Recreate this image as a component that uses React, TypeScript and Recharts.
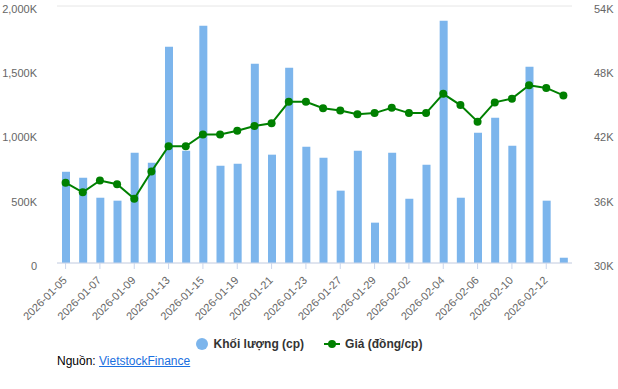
import * as React from 'react';
import { ComposedChart, Bar, Line, XAxis, YAxis, CartesianGrid } from 'recharts';

const dates = [
  '2026-01-05', '2026-01-06', '2026-01-07', '2026-01-08', '2026-01-09',
  '2026-01-12', '2026-01-13', '2026-01-14', '2026-01-15', '2026-01-16',
  '2026-01-19', '2026-01-20', '2026-01-21', '2026-01-22', '2026-01-23',
  '2026-01-26', '2026-01-27', '2026-01-28', '2026-01-29', '2026-01-30',
  '2026-02-02', '2026-02-03', '2026-02-04', '2026-02-05', '2026-02-06',
  '2026-02-09', '2026-02-10', '2026-02-11', '2026-02-12', '2026-02-13',
];

// khối lượng (cp)
const volumes = [
  710000, 664000, 508000, 485000, 858000,
  781000, 1683000, 874000, 1847000, 757000,
  773000, 1551000, 843000, 1520000, 905000,
  820000, 563000, 874000, 314000, 858000,
  500000, 765000, 1886000, 508000, 1014000,
  1131000, 913000, 1528000, 485000, 41000,
];

// giá (đồng/cp)
const prices = [
  37500, 36600, 37700, 37350, 36000,
  38550, 40900, 40900, 42000, 42000,
  42350, 42800, 43050, 45050, 45050,
  44450, 44250, 43900, 44000, 44500,
  44000, 44000, 45800, 44750, 43200,
  45000, 45350, 46600, 46350, 45650,
];

const volumeTicks = [0, 500000, 1000000, 1500000, 2000000];
const priceTicks = [30000, 36000, 42000, 48000, 54000];

const data = dates.map((d, i) => ({ date: d, volume: volumes[i], price: prices[i] }));

const FONT = '"Liberation Sans", Arial, Helvetica, sans-serif';
const BAR_COLOR = '#7cb5ec';
const LINE_COLOR = '#008000';

const fmtVolume = (v: number) => (v === 0 ? '0' : `${(v / 1000).toLocaleString('en-US')}K`);
const fmtPrice = (v: number) => `${v / 1000}K`;

const DateTick = ({ x, y, payload }: any) => (
  <text
    transform={`translate(${x + 2},${y + 10}) rotate(-45)`}
    textAnchor="end"
    fontSize={11}
    fill="#666666"
    fontFamily={FONT}
  >
    {payload.value}
  </text>
);

export default function App() {
  return (
    <div style={{ position: 'absolute', left: 0, top: 0, width: 618, height: 389, background: '#ffffff', fontFamily: FONT }}>
      <ComposedChart
        width={618}
        height={340}
        data={data}
        margin={{ top: 6, right: 0, bottom: 6, left: 0 }}
        barCategoryGap={0}
      >
        <CartesianGrid vertical={false} stroke="#e6e6e6" />
        <XAxis
          dataKey="date"
          interval={1}
          height={71}
          tick={<DateTick />}
          tickLine={{ stroke: '#ccd6eb' }}
          tickSize={6}
          axisLine={{ stroke: '#ccd6eb' }}
        />
        <YAxis
          yAxisId="vol"
          orientation="left"
          width={57}
          domain={[0, 2000000]}
          ticks={volumeTicks}
          tickFormatter={fmtVolume}
          axisLine={false}
          tickLine={false}
          tick={{ fontSize: 11, fill: '#666666', fontFamily: FONT, dy: 3 }}
          tickMargin={14}
        />
        <YAxis
          yAxisId="price"
          orientation="right"
          width={46}
          domain={[30000, 54000]}
          ticks={priceTicks}
          tickFormatter={fmtPrice}
          axisLine={false}
          tickLine={false}
          tick={{ fontSize: 11, fill: '#666666', fontFamily: FONT, dy: 3 }}
          tickMargin={16}
        />
        <Bar yAxisId="vol" dataKey="volume" fill={BAR_COLOR} barSize={8} isAnimationActive={false} />
        <Line
          yAxisId="price"
          dataKey="price"
          stroke={LINE_COLOR}
          strokeWidth={2}
          dot={{ r: 4, fill: LINE_COLOR, stroke: LINE_COLOR, strokeWidth: 0 }}
          activeDot={false}
          isAnimationActive={false}
        />
      </ComposedChart>

      <div
        style={{
          position: 'absolute',
          top: 337,
          left: 0,
          width: 618,
          display: 'flex',
          justifyContent: 'center',
          alignItems: 'center',
          fontSize: 12,
          fontWeight: 'bold',
          color: '#333333',
        }}
      >
        <span style={{ display: 'inline-block', width: 12, height: 12, borderRadius: 6, background: BAR_COLOR, marginRight: 6 }} />
        <span>Khối lượng (cp)</span>
        <svg width={16} height={12} style={{ marginLeft: 20, marginRight: 5 }}>
          <line x1={0} y1={6} x2={16} y2={6} stroke={LINE_COLOR} strokeWidth={2} />
          <circle cx={8} cy={6} r={4} fill={LINE_COLOR} />
        </svg>
        <span>Giá (đồng/cp)</span>
      </div>

      <div style={{ position: 'absolute', top: 354, left: 57, fontSize: 12, color: '#000000' }}>
        Nguồn:{' '}
        <a href="#" style={{ color: '#1a6fe0', textDecoration: 'underline' }}>VietstockFinance</a>
      </div>
    </div>
  );
}
